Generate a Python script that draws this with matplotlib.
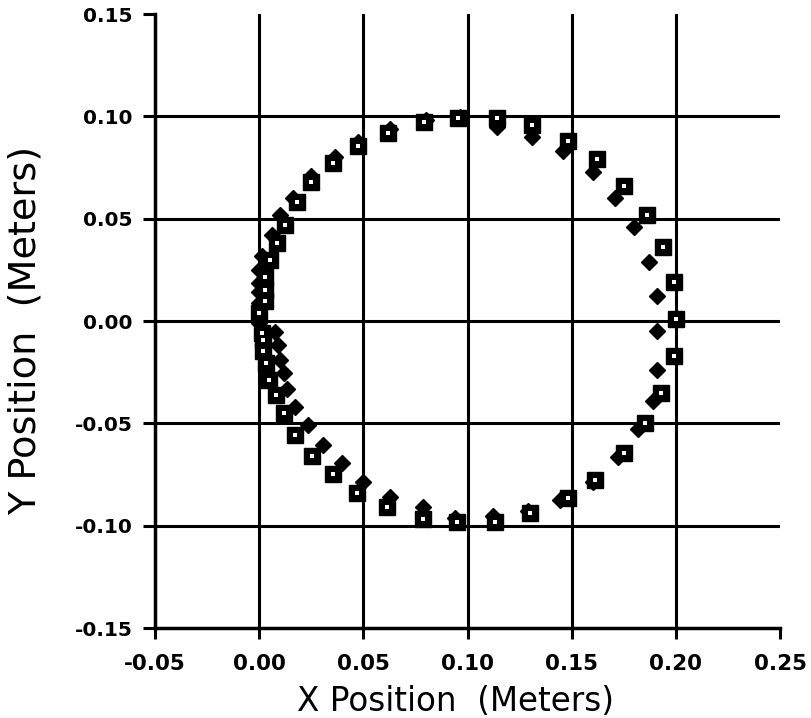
import matplotlib
matplotlib.use("Agg")
import matplotlib.pyplot as plt

# square markers (black with white centre)
sq_x = [0.000, 0.003, 0.003, 0.003, 0.005, 0.0087, 0.0125, 0.018, 0.025, 0.0355,
        0.0475, 0.062, 0.079, 0.0955, 0.114, 0.131, 0.148, 0.162, 0.175, 0.186,
        0.194, 0.199, 0.200, 0.199, 0.193, 0.185, 0.175, 0.161, 0.148, 0.130,
        0.113, 0.095, 0.0787, 0.0614, 0.047, 0.0355, 0.0254, 0.0173, 0.012, 0.0082,
        0.0045, 0.0034, 0.002, 0.002, 0.0013]
sq_y = [0.004, 0.010, 0.015, 0.0215, 0.030, 0.038, 0.047, 0.058, 0.068, 0.077,
        0.0855, 0.092, 0.097, 0.099, 0.099, 0.096, 0.088, 0.079, 0.066, 0.052,
        0.036, 0.019, 0.001, -0.017, -0.035, -0.050, -0.0645, -0.0777, -0.0865, -0.094,
        -0.098, -0.098, -0.0968, -0.091, -0.084, -0.0748, -0.066, -0.0557, -0.045, -0.036,
        -0.029, -0.0207, -0.0145, -0.0093, -0.006]

# filled diamonds
dm_x = [0.000, 0.000, 0.000, 0.000, 0.000, 0.000, 0.0015, 0.006, 0.010, 0.016,
        0.025, 0.0365, 0.0475, 0.063, 0.080, 0.0965, 0.114, 0.131, 0.146, 0.160,
        0.171, 0.180, 0.187, 0.191, 0.191, 0.191, 0.189, 0.182, 0.172, 0.160,
        0.1445, 0.129, 0.112, 0.094, 0.0787, 0.063, 0.050, 0.0398, 0.0307, 0.0235,
        0.0173, 0.0133, 0.0117, 0.010, 0.009, 0.0077]
dm_y = [-0.001, 0.004, 0.009, 0.014, 0.0185, 0.025, 0.032, 0.042, 0.052, 0.060,
        0.071, 0.080, 0.0875, 0.094, 0.098, 0.0997, 0.095, 0.090, 0.083, 0.073,
        0.060, 0.046, 0.029, 0.012, -0.005, -0.024, -0.039, -0.053, -0.0665, -0.0787,
        -0.0875, -0.093, -0.0953, -0.096, -0.091, -0.086, -0.0787, -0.0694, -0.0606, -0.051,
        -0.042, -0.033, -0.0256, -0.019, -0.0117, -0.0054]

x_ticks = [-0.05, 0.00, 0.05, 0.10, 0.15, 0.20, 0.25]
y_ticks = [-0.15, -0.10, -0.05, 0.00, 0.05, 0.10, 0.15]

fig = plt.figure(figsize=(8.12, 7.18), dpi=100)
ax = fig.add_axes([0.191, 0.1253, 0.7696, 0.8552])

# grid only at the inner ticks
for xv in x_ticks[1:-1]:
    ax.axvline(xv, color="black", lw=2.2, zorder=1)
for yv in y_ticks[1:-1]:
    ax.axhline(yv, color="black", lw=2.2, zorder=1)

ax.plot(sq_x, sq_y, "s", color="black", ms=11.5, zorder=3)
ax.plot(sq_x, sq_y, "s", color="white", ms=3.2, mew=0, zorder=4)
ax.plot(dm_x, dm_y, "D", color="black", ms=8.5, zorder=2)

ax.set_xlim(-0.05, 0.25)
ax.set_ylim(-0.15, 0.15)
ax.set_xticks(x_ticks)
ax.set_yticks(y_ticks)
ax.set_xticklabels([f"{v:.2f}" for v in x_ticks], family="DejaVu Sans",
                   weight="bold", fontsize=15.5)
ax.set_yticklabels([f"{v:.2f}" for v in y_ticks], family="DejaVu Sans",
                   weight="bold", fontsize=14.5)
ax.tick_params(axis="x", direction="out", length=8, width=2.2, pad=11)
ax.tick_params(axis="y", direction="out", length=9, width=2.2, pad=7)

for s in ["top", "right"]:
    ax.spines[s].set_visible(False)
for s in ["left", "bottom"]:
    ax.spines[s].set_linewidth(2.5)

ax.set_xlabel("X Position  (Meters)", family="DejaVu Sans", fontsize=23.5)
ax.set_ylabel("Y Position  (Meters)", family="DejaVu Sans", fontsize=27.5)
ax.xaxis.set_label_coords(0.48, -0.092)
ax.yaxis.set_label_coords(-0.178, 0.485)

fig.savefig("out.png", dpi=100)
